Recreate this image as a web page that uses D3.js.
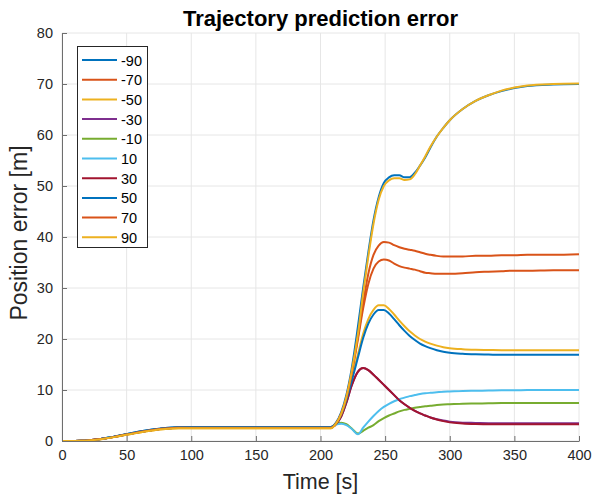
<!DOCTYPE html>
<html>
<head>
<meta charset="utf-8">
<script src="https://cdn.jsdelivr.net/npm/d3@7"></script>
<style>
  html, body { margin: 0; padding: 0; background: #fff; }
  svg { display: block; font-family: "Liberation Sans", Arial, Helvetica, sans-serif; }
</style>
</head>
<body>
<svg id="chart" width="593" height="496"></svg>
<script>
// Sample times [s] shared by every series
const times = [0,10,15,20,30,40,50,60,70,80,90,100,150,200,208,
  212,216,220,224,229,233,237,241,245,249,253,257,261,265,269,
  273,277,281,285,290,295,300,310,320,330,340,350,360,380,400];

// Series names (legend order) and MATLAB default colour order
const seriesNames = ["-90","-70","-50","-30","-10","10","30","50","70","90"];
const seriesColors = ["#0072BD","#D95319","#EDB120","#7E2F8E","#77AC30",
  "#4DBEEE","#A2142F","#0072BD","#D95319","#EDB120"];

// Position error [m] for each series at the sample times
const errM90 = [0,0,0.03,0.1,0.4,0.85,1.35,1.85,2.25,2.55,2.72,2.75,2.75,2.75,2.75,
  3.6,5.6,9.0,14.0,22.5,30.0,37.0,43.3,47.8,50.6,51.7,52.1,52.1,51.7,51.7,
  52.6,54.0,55.6,57.5,59.7,61.4,62.9,65.1,66.7,67.8,68.6,69.2,69.6,69.9,70.0];
const errM70 = [0,0,0.03,0.1,0.38,0.8,1.28,1.76,2.15,2.45,2.6,2.62,2.62,2.62,2.62,
  3.4,5.3,8.5,13.2,20.5,27.0,32.8,36.5,38.3,39.0,38.9,38.4,38.0,37.7,37.5,
  37.3,37.0,36.7,36.5,36.3,36.2,36.2,36.2,36.3,36.3,36.4,36.4,36.5,36.5,36.6];
const errM50 = [0,0,0.03,0.09,0.35,0.76,1.22,1.68,2.06,2.33,2.48,2.5,2.5,2.5,2.5,
  3.4,5.2,8.2,12.0,17.0,21.0,23.9,25.7,26.6,26.6,25.9,24.8,23.6,22.5,21.5,
  20.7,20.0,19.5,19.1,18.7,18.4,18.2,18.0,17.9,17.85,17.8,17.8,17.8,17.8,17.8];
const errM30 = [0,0,0.03,0.1,0.38,0.8,1.28,1.76,2.15,2.45,2.6,2.62,2.62,2.62,2.62,
  3.3,4.8,7.5,10.8,13.6,14.3,13.9,13.0,12.0,11.0,10.0,9.0,8.0,7.2,6.5,
  5.9,5.4,5.0,4.6,4.25,4.0,3.8,3.6,3.55,3.5,3.5,3.5,3.5,3.5,3.5];
const errM10 = [0,0,0.03,0.1,0.38,0.8,1.28,1.76,2.15,2.45,2.6,2.62,2.62,2.62,2.62,
  3.3,3.6,3.3,2.5,1.45,2.0,2.6,3.1,3.9,4.5,5.0,5.4,5.8,6.1,6.3,
  6.5,6.65,6.8,6.9,7.05,7.15,7.2,7.3,7.35,7.4,7.45,7.45,7.45,7.45,7.45];
const errP10 = [0,0,0.03,0.1,0.38,0.8,1.28,1.76,2.15,2.45,2.6,2.62,2.62,2.62,2.62,
  3.2,3.4,3.1,2.4,1.3,2.6,3.8,4.9,5.9,6.7,7.3,7.8,8.2,8.5,8.8,
  9.0,9.2,9.35,9.45,9.55,9.65,9.7,9.8,9.85,9.9,9.95,9.95,10.0,10.0,10.0];
const errP30 = [0,0,0.03,0.1,0.38,0.8,1.28,1.76,2.15,2.45,2.6,2.62,2.62,2.62,2.62,
  3.3,4.8,7.5,10.8,13.6,14.3,13.9,13.0,12.0,11.0,10.0,9.0,8.0,7.2,6.5,
  5.9,5.4,5.0,4.6,4.2,3.9,3.65,3.45,3.35,3.3,3.3,3.3,3.3,3.3,3.3];
const errP50 = [0,0,0.03,0.1,0.4,0.85,1.35,1.85,2.25,2.55,2.72,2.75,2.75,2.75,2.75,
  3.4,5.2,8.0,11.6,16.4,20.2,23.0,24.8,25.7,25.7,25.0,23.9,22.7,21.6,20.6,
  19.8,19.1,18.6,18.2,17.8,17.5,17.3,17.1,17.0,16.95,16.9,16.9,16.9,16.9,16.9];
const errP70 = [0,0,0.03,0.1,0.38,0.8,1.28,1.76,2.15,2.45,2.6,2.62,2.62,2.62,2.62,
  3.4,5.3,8.4,13.0,20.0,26.0,30.8,33.8,35.2,35.6,35.4,34.8,34.3,34.0,33.8,
  33.6,33.3,33.0,32.9,32.8,32.8,32.8,32.9,33.1,33.2,33.3,33.4,33.4,33.5,33.5];
const errP90 = [0,0,0.03,0.09,0.35,0.76,1.22,1.68,2.06,2.33,2.48,2.5,2.5,2.5,2.5,
  3.4,5.3,8.6,13.4,21.0,29.0,36.2,42.6,47.3,50.0,51.1,51.5,51.5,51.2,51.3,
  52.3,54.0,55.8,57.7,59.7,61.4,62.9,65.1,66.7,67.8,68.7,69.3,69.7,70.0,70.1];

const seriesValues = [errM90, errM70, errM50, errM30, errM10, errP10, errP30, errP50, errP70, errP90];

// Axis ticks
const xTicks = [0,50,100,150,200,250,300,350,400];
const yTicks = [0,10,20,30,40,50,60,70,80];

const svg = d3.select("#chart");
const margin = { left: 62, right: 14, top: 33, bottom: 55 };
const W = 593, H = 496;
const x = d3.scaleLinear().domain([0, 400]).range([margin.left, W - margin.right]);
const y = d3.scaleLinear().domain([0, 80]).range([H - margin.bottom, margin.top]);

const axisColor = "#262626";

// Grid
const grid = svg.append("g");
grid.selectAll("line.gx").data(xTicks).join("line")
  .attr("x1", d => x(d)).attr("x2", d => x(d))
  .attr("y1", y(0)).attr("y2", y(80))
  .attr("stroke", "#e6e6e6").attr("stroke-width", 1);
grid.selectAll("line.gy").data(yTicks).join("line")
  .attr("y1", d => y(d)).attr("y2", d => y(d))
  .attr("x1", x(0)).attr("x2", x(400))
  .attr("stroke", "#e6e6e6").attr("stroke-width", 1);

// Lines
const line = d3.line()
  .x((d, i) => x(times[i]))
  .y(d => y(d))
  .curve(d3.curveMonotoneX);

svg.append("g").selectAll("path").data(seriesValues).join("path")
  .attr("d", d => line(d))
  .attr("fill", "none")
  .attr("stroke", (d, i) => seriesColors[i])
  .attr("stroke-width", 2)
  .attr("stroke-linejoin", "round");

// Axes (ticks point inward)
const xAxis = d3.axisBottom(x).tickValues(xTicks).tickSizeInner(-5).tickSizeOuter(0).tickPadding(9);
const yAxis = d3.axisLeft(y).tickValues(yTicks).tickSizeInner(-5).tickSizeOuter(0).tickPadding(9);

const gx = svg.append("g").attr("transform", `translate(0,${y(0)})`).call(xAxis);
const gy = svg.append("g").attr("transform", `translate(${x(0)},0)`).call(yAxis);
[gx, gy].forEach(g => {
  g.select(".domain").attr("stroke", "#6e6e6e").attr("stroke-width", 1);
  g.selectAll(".tick line").attr("stroke", "#6e6e6e");
  g.selectAll(".tick text").attr("fill", axisColor)
    .style("font-family", "'Liberation Sans', Arial, sans-serif").style("font-size", "14.5px");
});

// Title and axis labels
svg.append("text").attr("x", (x(0) + x(400)) / 2).attr("y", 26)
  .attr("text-anchor", "middle").attr("fill", "#000")
  .style("font-weight", "bold").style("font-size", "22px")
  .text("Trajectory prediction error");
svg.append("text").attr("x", (x(0) + x(400)) / 2).attr("y", 489)
  .attr("text-anchor", "middle").attr("fill", axisColor)
  .style("font-size", "21.5px").text("Time [s]");
svg.append("text").attr("transform", `translate(27,${(y(0) + y(80)) / 2 - 4}) rotate(-90)`)
  .attr("text-anchor", "middle").attr("fill", axisColor)
  .style("font-size", "23px").text("Position error [m]");

// Legend
const leg = svg.append("g");
const legX = 77.5, legY = 46.5, legW = 70, rowH = 19.7;
leg.append("rect").attr("x", legX).attr("y", legY).attr("width", legW)
  .attr("height", seriesNames.length * rowH + 4)
  .attr("fill", "#fff").attr("stroke", "#262626").attr("stroke-width", 1);
const rows = leg.selectAll("g.row").data(seriesNames).join("g")
  .attr("transform", (d, i) => `translate(0,${legY + 13.5 + i * rowH})`);
rows.append("line").attr("x1", 82).attr("x2", 117).attr("y1", 0).attr("y2", 0)
  .attr("stroke", (d, i) => seriesColors[i]).attr("stroke-width", 2);
rows.append("text").attr("x", 121).attr("y", 5.5).attr("fill", "#000")
  .style("font-size", "14.5px").text(d => d);
</script>
</body>
</html>
